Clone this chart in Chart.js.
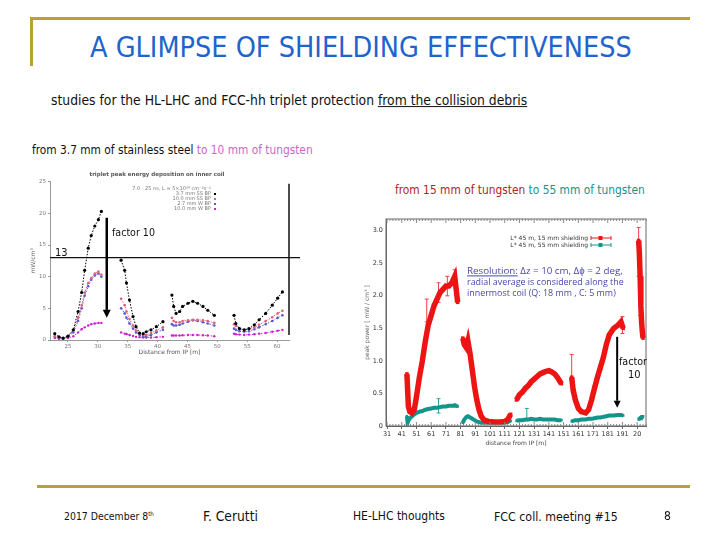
<!DOCTYPE html>
<html>
<head>
<meta charset="utf-8">
<script src="https://cdn.jsdelivr.net/npm/chart.js@4.4.0/dist/chart.umd.min.js"></script>
<style>
body { margin:0; width:720px; height:540px; background:#fff; position:relative; overflow:hidden; font-family:"DejaVu Sans Condensed", "DejaVu Sans", sans-serif; }
canvas { position:absolute; }
.gold { position:absolute; background:#BBA035; }
.t { position:absolute; white-space:nowrap; line-height:1.15; transform:translateY(-50%); color:#111; }
.res { font-family:"Open Sans", sans-serif; color:#4848A8; }
</style>
</head>
<body>
<canvas id="leftChart" width="275" height="195" style="left:25px;top:165px"></canvas>
<canvas id="rightChart" width="300" height="245" style="left:360px;top:205px"></canvas>

<div class="gold" style="left:30px;top:17px;width:660px;height:3px"></div>
<div class="gold" style="left:30px;top:17px;width:3px;height:49px"></div>
<div class="gold" style="left:37px;top:485px;width:653px;height:3px"></div>

<div class="t" data-w="542" style="left:90px;top:48px;font-size:27px;color:#1E64CC">A GLIMPSE OF SHIELDING EFFECTIVENESS</div>
<div class="t" data-w="477" style="left:51px;top:101px;font-size:13px">studies for the HL-LHC and FCC-hh triplet protection <u>from the collision debris</u></div>
<div class="t" data-w="281" style="left:32px;top:151px;font-size:12px">from 3.7 mm of stainless steel <span style="color:#CC66C4">to 10 mm of tungsten</span></div>
<div class="t" data-w="250" style="left:395px;top:191px;font-size:12px"><span style="color:#B01E1E">from 15 mm of tungsten</span> <span style="color:#1A8F8F">to 55 mm of tungsten</span></div>

<div class="t" style="left:55px;top:253px;font-size:11px">13</div>
<div class="t" data-w="43" style="left:112px;top:232px;font-size:11px">factor 10</div>
<div class="t" data-w="28" style="left:619px;top:362px;font-size:11px">factor</div>
<div class="t" style="left:628px;top:375px;font-size:11px">10</div>

<div class="t res" data-w="156" style="left:467px;top:271px;font-size:10px"><u>Resolution:</u> Δz = 10 cm, Δϕ = 2 deg,</div>
<div class="t res" data-w="157" style="left:467px;top:282px;font-size:10px">radial average is considered along the</div>
<div class="t res" data-w="149" style="left:467px;top:293px;font-size:10px">innermost coil (Q: 18 mm , C: 5 mm)</div>

<div class="t" data-w="90" style="left:64px;top:517px;font-size:12px">2017 December 8<sup style="font-size:0.6em;line-height:0">th</sup></div>
<div class="t" data-w="55" style="left:203px;top:517px;font-size:12px">F. Cerutti</div>
<div class="t" data-w="92" style="left:353px;top:517px;font-size:12px">HE-LHC thoughts</div>
<div class="t" data-w="124" style="left:494px;top:517px;font-size:12px">FCC coll. meeting #15</div>
<div class="t" style="left:664px;top:517px;font-size:12px">8</div>

<script>
// --- Left plot: triplet peak energy deposition on inner coil [mW/cm3] ---
const leftX = [22.8, 23.5, 24.2, 25.0, 25.9, 26.7, 27.3, 27.8, 28.4, 28.9, 29.5, 30.1, 30.6, null,
    33.9, 34.5, 34.8, 35.3, 35.9, 36.4, 37.0, 37.6, 38.1, 38.9, 39.8, 40.9, null,
    42.4, 42.7, 43.1, 43.7, 44.2, 45.1, 45.9, 46.7, 47.6, 48.4, 49.5, null,
    52.8, 53.1, 53.7, 54.5, 55.3, 56.2, 57.0, 58.1, 59.2, 60.1, 60.9];
const leftBlack = [1.0, 0.5, 0.3, 0.6, 1.6, 4.5, 7.5, 11.0, 14.5, 16.5, 18.0, 19.0, 20.3, null,
    12.6, 11.0, 9.0, 6.3, 3.7, 2.1, 1.1, 1.0, 1.3, 1.6, 2.1, 2.9, null,
    7.1, 5.3, 4.2, 4.5, 5.3, 5.8, 6.1, 5.8, 5.3, 4.7, 3.9, null,
    3.9, 2.6, 1.8, 1.6, 1.8, 2.4, 3.2, 4.2, 5.5, 6.6, 7.6];
const leftRed = [0.6, 0.4, 0.3, 0.6, 1.5, 3.5, 5.5, 7.5, 9.0, 9.8, 10.5, 10.8, 10.3, null,
    6.5, 5.5, 4.5, 3.3, 2.3, 1.5, 1.0, 0.8, 0.8, 1.1, 1.5, 2.0, null,
    3.5, 3.0, 2.8, 2.8, 3.0, 3.1, 3.2, 3.2, 3.1, 3.0, 2.7, null,
    2.5, 2.2, 1.8, 1.6, 1.7, 2.0, 2.4, 3.0, 3.6, 4.2, 4.6];
const leftBlue = [0.5, 0.3, 0.2, 0.5, 1.2, 3.0, 5.0, 7.0, 8.5, 9.5, 10.2, 10.5, 10.0, null,
    5.0, 4.2, 3.5, 2.6, 1.8, 1.2, 0.8, 0.6, 0.6, 0.8, 1.2, 1.6, null,
    2.5, 2.3, 2.3, 2.4, 2.6, 2.9, 3.1, 3.0, 2.8, 2.6, 2.3, null,
    1.8, 1.6, 1.4, 1.3, 1.4, 1.7, 2.0, 2.5, 3.0, 3.5, 3.9];
const leftMagenta = [0.3, 0.2, 0.2, 0.3, 0.6, 1.2, 1.7, 2.0, 2.3, 2.5, 2.6, 2.7, 2.7, null,
    1.2, 1.0, 0.95, 0.8, 0.65, 0.5, 0.45, 0.4, 0.4, 0.4, 0.45, 0.5, null,
    0.7, 0.7, 0.7, 0.7, 0.75, 0.8, 0.8, 0.8, 0.75, 0.7, 0.6, null,
    1.0, 0.9, 0.85, 0.8, 0.85, 0.9, 1.0, 1.1, 1.3, 1.45, 1.6];
const leftLabels = ['3.7 mm SS BP', '10.0 mm SS BP', '2.7 mm W BP', '10.0 mm W BP'];
const leftXTicks = [25, 30, 35, 40, 45, 50, 55, 60];
const leftYTicks = [0, 5, 10, 15, 20, 25];

// --- Right plot: peak power [mW/cm3] vs distance from IP ---
const rightX = [44.5, 45.0, 45.5, 46.5, 48.0, 49.5, 51.0, 53.0, 55.0, 57.0, 59.0, 61.0, 63.0, 65.0, 67.0, 69.0, 71.0, 73.0, 75.0, 76.0, 77.0, 78.0, 79.0, null,
    82.5, 83.5, 85.0, 86.0, 87.5, 89.0, 90.5, 92.0, 93.5, 95.0, 97.0, 100.0, 104.0, 108.0, 111.0, 113.0, 115.0, null,
    119, 121, 123, 125, 127, 129, 131, 133, 135, 137, 139, 141, 143, 145, 147, 149.5, null,
    156.5, 157.5, 159, 161, 163, 166, 168, 170, 172, 174, 176, 178, 180, 182, 185, 188, 190, 191.5, null,
    202, 202.5, 203, 203.5, 204, 204.5, 205];
const rightRed = [0.8, 0.55, 0.3, 0.22, 0.2, 0.25, 0.45, 0.75, 1.0, 1.3, 1.55, 1.7, 1.85, 1.95, 2.05, 2.1, 2.15, 2.15, 2.2, 2.25, 2.3, 2.1, 1.9, null,
    1.35, 1.25, 1.2, 1.3, 1.1, 0.85, 0.6, 0.4, 0.25, 0.15, 0.09, 0.07, 0.06, 0.06, 0.07, 0.1, 0.18, null,
    0.4, 0.48, 0.52, 0.58, 0.62, 0.68, 0.72, 0.76, 0.8, 0.82, 0.84, 0.85, 0.83, 0.8, 0.74, 0.65, null,
    0.75, 0.55, 0.4, 0.27, 0.22, 0.2, 0.25, 0.4, 0.58, 0.75, 0.9, 1.05, 1.25, 1.4, 1.5, 1.55, 1.6, 1.5, null,
    2.85, 2.65, 2.3, 1.85, 1.6, 1.45, 1.35];
const rightTeal = [0.15, 0.05, 0.08, 0.12, 0.15, 0.18, 0.2, 0.22, 0.23, 0.25, 0.26, 0.27, 0.28, 0.28, 0.29, 0.3, 0.3, 0.31, 0.31, 0.31, 0.32, 0.31, 0.3, null,
    0.05, 0.1, 0.14, 0.15, 0.13, 0.11, 0.09, 0.07, 0.06, 0.05, 0.05, 0.05, 0.05, 0.05, 0.05, 0.06, 0.08, null,
    0.08, 0.09, 0.09, 0.1, 0.1, 0.11, 0.1, 0.1, 0.11, 0.1, 0.1, 0.1, 0.1, 0.1, 0.09, 0.09, null,
    0.07, 0.08, 0.09, 0.09, 0.1, 0.1, 0.11, 0.11, 0.12, 0.13, 0.13, 0.14, 0.15, 0.16, 0.16, 0.17, 0.17, 0.16, null,
    0.1, 0.11, 0.12, 0.13, 0.14, 0.14, 0.15];
// a few visible error bars
const redErrX = [58, 66, 72, 77, 156.5, 191, 202, 203];
const redErrLo = [1.6, 1.9, 2.0, 2.15, 0.7, 1.42, 2.3, 1.7];
const redErrHi = [1.95, 2.2, 2.3, 2.4, 1.1, 1.68, 3.05, 2.0];
const tealErrX = [66, 126];
const tealErrLo = [0.2, 0.08];
const tealErrHi = [0.42, 0.27];
const rightLabels = ['L* 45 m, 15 mm shielding', 'L* 45 m, 55 mm shielding'];
const rightXTicks = [31, 41, 51, 61, 71, 81, 91, 101, 111, 121, 131, 141, 151, 161, 171, 181, 191, 201];
const rightXLabels = ['31', '41', '51', '61', '71', '81', '91', '101', '111', '121', '131', '141', '151', '161', '171', '181', '191', '20'];
const rightYTicks = [0, 0.5, 1, 1.5, 2, 2.5, 3];

// --- fit slide texts to their widths ---
document.querySelectorAll('[data-w]').forEach(el => {
    let fs = parseFloat(getComputedStyle(el).fontSize);
    el.style.fontSize = (fs * (+el.dataset.w) / el.getBoundingClientRect().width) + 'px';
});

function toPoints(xs, ys){
    return xs.map((x, i) => ({x: x, y: ys[i]}));
}

function drawArrow(ctx, x, yTop, yBottom, lw, half, len){
    ctx.strokeStyle = '#000';
    ctx.fillStyle = '#000';
    ctx.lineWidth = lw;
    ctx.beginPath(); ctx.moveTo(x, yTop); ctx.lineTo(x, yBottom - len); ctx.stroke();
    ctx.beginPath();
    ctx.moveTo(x - half, yBottom - len); ctx.lineTo(x + half, yBottom - len); ctx.lineTo(x, yBottom);
    ctx.closePath(); ctx.fill();
}

// --- Left chart ---
const leftDecor = {
    id: 'leftDecor',
    afterDraw(chart, args, o){
        const {ctx, chartArea: a, scales: {x, y}} = chart;
        ctx.save();
        ctx.strokeStyle = '#111'; ctx.lineWidth = 1.5;
        ctx.beginPath(); ctx.moveTo(a.right, a.top + 2); ctx.lineTo(a.right, a.bottom - 5); ctx.stroke();
        // level line
        let yl = y.getPixelForValue(o.level);
        ctx.lineWidth = 1.2;
        ctx.beginPath(); ctx.moveTo(a.left, yl); ctx.lineTo(chart.width, yl); ctx.stroke();
        drawArrow(ctx, x.getPixelForValue(o.arrowX), y.getPixelForValue(o.arrowFrom), y.getPixelForValue(o.arrowTo), 2.5, 4, 8);
        // legend
        ctx.font = '5px "DejaVu Sans"';
        ctx.textAlign = 'right'; ctx.textBaseline = 'middle';
        ctx.fillStyle = '#777';
        ctx.fillText(o.header, o.legendX, o.legendY);
        chart.data.datasets.forEach((ds, i) => {
            let ly = o.legendY + (i + 1) * 5;
            ctx.fillStyle = '#777';
            ctx.fillText(ds.label, o.legendX, ly);
            ctx.fillStyle = ds.borderColor;
            ctx.fillRect(o.legendX + 3, ly - 1, 2, 2);
        });
        ctx.restore();
    }
};

function leftSet(label, ys, color, r){
    return {
        label: label, data: toPoints(leftX, ys), showLine: true,
        borderColor: color, backgroundColor: color, borderWidth: 1, borderDash: [1.5, 1.5],
        pointRadius: r, pointBorderWidth: 0, spanGaps: false
    };
}

new Chart(document.getElementById('leftChart'), {
    type: 'scatter',
    data: {
        datasets: [
            leftSet(leftLabels[0], leftBlack, '#000000', 1.6),
            leftSet(leftLabels[1], leftRed, '#E0607A', 1.3),
            leftSet(leftLabels[2], leftBlue, '#5A5AD0', 1.3),
            leftSet(leftLabels[3], leftMagenta, '#D020D0', 1.2)
        ]
    },
    options: {
        responsive: false, animation: false,
        layout: {padding: {top: 4.1, right: 11, left: 0, bottom: 0}},
        plugins: {
            legend: {display: false}, tooltip: {enabled: false},
            title: {display: true, text: 'triplet peak energy deposition on inner coil', color: '#555',
                font: {family: 'DejaVu Sans', size: 5.5}, padding: {top: 2, bottom: 4}},
            leftDecor: {level: 13, arrowX: 31.5, arrowFrom: 19.3, arrowTo: 3.5,
                header: '7.0 - 25 ns, L = 5\u00d710\u00b3\u2074 cm\u207b\u00b2s\u207b\u00b9', legendX: 186, legendY: 24}
        },
        scales: {
            x: {
                type: 'linear', min: 22, max: 62,
                afterBuildTicks: s => { s.ticks = leftXTicks.map(v => ({value: v})); },
                afterFit: s => { s.height = 20; },
                ticks: {color: '#777', font: {family: 'DejaVu Sans', size: 5.5}, padding: 1, maxRotation: 0, autoSkip: false},
                grid: {drawOnChartArea: false, tickLength: 2, color: '#999'},
                border: {color: '#999'},
                title: {display: true, text: 'Distance from IP [m]', color: '#555', font: {family: 'DejaVu Sans', size: 6}, padding: {top: 0, bottom: 4.4}}
            },
            y: {
                min: 0, max: 25,
                afterBuildTicks: s => { s.ticks = leftYTicks.map(v => ({value: v})); },
                afterFit: s => { s.width = 25; },
                ticks: {color: '#777', font: {family: 'DejaVu Sans', size: 5.5}, padding: 2},
                grid: {drawOnChartArea: false, tickLength: 2, color: '#999'},
                border: {color: '#999'},
                title: {display: true, text: 'mW/cm\u00b3', color: '#666', font: {family: 'DejaVu Sans', size: 6}, padding: {top: 4.4, bottom: 0}}
            }
        }
    },
    plugins: [leftDecor]
});

// --- Right chart ---
function drawErrors(ctx, x, y, xs, lo, hi, color){
    ctx.strokeStyle = color; ctx.lineWidth = 1;
    ctx.beginPath();
    xs.forEach((v, i) => {
        let px = x.getPixelForValue(v), p0 = y.getPixelForValue(lo[i]), p1 = y.getPixelForValue(hi[i]);
        ctx.moveTo(px, p0); ctx.lineTo(px, p1);
        ctx.moveTo(px - 2, p1); ctx.lineTo(px + 2, p1);
        ctx.moveTo(px - 2, p0); ctx.lineTo(px + 2, p0);
    });
    ctx.stroke();
}

const rightDecor = {
    id: 'rightDecor',
    beforeDatasetsDraw(chart){
        const {ctx, scales: {x, y}} = chart;
        ctx.save();
        drawErrors(ctx, x, y, redErrX, redErrLo, redErrHi, '#F04040');
        drawErrors(ctx, x, y, tealErrX, tealErrLo, tealErrHi, '#30A098');
        ctx.restore();
    },
    afterDraw(chart, args, o){
        const {ctx, chartArea: a, scales: {x, y}} = chart;
        ctx.save();
        ctx.strokeStyle = '#666'; ctx.lineWidth = 1;
        ctx.strokeRect(a.left, a.top, a.right - a.left, a.bottom - a.top);
        // minor ticks along top and bottom
        ctx.strokeStyle = '#888';
        ctx.beginPath();
        for (let v = o.minorStart; v <= x.max; v += o.minorStep){
            let px = x.getPixelForValue(v);
            let len = ((v - o.minorStart) % 10 === 0) ? 4 : 2;
            ctx.moveTo(px, a.top); ctx.lineTo(px, a.top + len);
            ctx.moveTo(px, a.bottom); ctx.lineTo(px, a.bottom - len);
        }
        ctx.stroke();
        // legend
        ctx.font = '6px "DejaVu Sans"';
        ctx.textAlign = 'right'; ctx.textBaseline = 'middle';
        chart.data.datasets.forEach((ds, i) => {
            let ly = o.legendY + i * o.legendStep;
            ctx.fillStyle = '#333';
            ctx.fillText(ds.label, o.legendX, ly);
            ctx.strokeStyle = ds.borderColor; ctx.lineWidth = 1;
            ctx.beginPath();
            ctx.moveTo(o.legendX + 3, ly); ctx.lineTo(o.legendX + 23, ly);
            ctx.moveTo(o.legendX + 3, ly - 2); ctx.lineTo(o.legendX + 3, ly + 2);
            ctx.moveTo(o.legendX + 23, ly - 2); ctx.lineTo(o.legendX + 23, ly + 2);
            ctx.stroke();
            ctx.fillStyle = ds.borderColor;
            ctx.fillRect(o.legendX + 10.5, ly - 2, 4, 4);
        });
        drawArrow(ctx, x.getPixelForValue(o.arrowX), y.getPixelForValue(o.arrowFrom), y.getPixelForValue(o.arrowTo), 2, 3.5, 7);
        ctx.restore();
    }
};

function rightSet(label, ys, color, w, r){
    return {
        label: label, data: toPoints(rightX, ys), showLine: true,
        borderColor: color, backgroundColor: color, borderWidth: w,
        pointStyle: 'rect', pointRadius: r, pointBorderWidth: 0, spanGaps: false
    };
}

new Chart(document.getElementById('rightChart'), {
    type: 'scatter',
    data: {
        datasets: [
            rightSet(rightLabels[0], rightRed, '#EE1414', 5.5, 2.5),
            rightSet(rightLabels[1], rightTeal, '#14958C', 4, 1.8)
        ]
    },
    options: {
        responsive: false, animation: false,
        layout: {padding: {top: 14, right: 14, left: 0, bottom: 0}},
        plugins: {
            legend: {display: false}, tooltip: {enabled: false},
            rightDecor: {minorStart: 31, minorStep: 2, legendX: 228, legendY: 33, legendStep: 7,
                arrowX: 187.4, arrowFrom: 1.37, arrowTo: 0.28}
        },
        scales: {
            x: {
                type: 'linear', min: 30.3, max: 207,
                afterBuildTicks: s => { s.ticks = rightXTicks.map(v => ({value: v})); },
                afterFit: s => { s.height = 24; },
                ticks: {callback: (v, i) => rightXLabels[i], color: '#333', font: {family: 'DejaVu Sans', size: 6.5}, padding: 1, maxRotation: 0, autoSkip: false},
                grid: {drawOnChartArea: false, tickLength: 3, color: '#666'},
                border: {color: '#666'},
                title: {display: true, text: 'distance from IP [m]', color: '#444', font: {family: 'DejaVu Sans', size: 6}, padding: {top: 0, bottom: 3.4}}
            },
            y: {
                min: 0, max: 3.18,
                afterBuildTicks: s => { s.ticks = rightYTicks.map(v => ({value: v})); },
                afterFit: s => { s.width = 26; },
                ticks: {color: '#333', font: {family: 'DejaVu Sans', size: 6.5}, padding: 3},
                grid: {drawOnChartArea: false, tickLength: 0, color: '#666'},
                border: {color: '#666'},
                title: {display: true, text: 'peak power [ mW / cm\u00b3 ]', color: '#666', font: {family: 'DejaVu Sans', size: 6}, padding: {top: 3.4, bottom: 0}}
            }
        }
    },
    plugins: [rightDecor]
});
</script>
</body>
</html>
